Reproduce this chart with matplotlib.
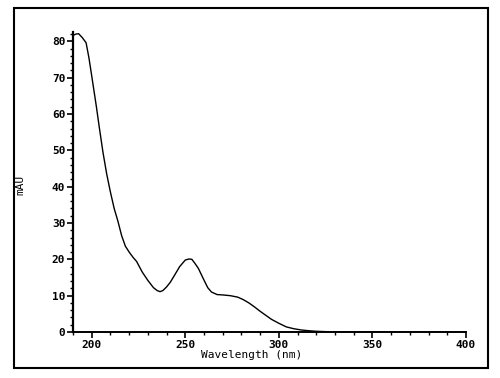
import matplotlib
matplotlib.use("Agg")
import matplotlib.pyplot as plt
from matplotlib.patches import Rectangle
from matplotlib.ticker import MultipleLocator

# spectrum (nm, mAU)
wavelength = [190, 191.5, 193, 195, 197, 198.5, 200, 202.5, 204, 206, 208, 210,
              212, 214, 216, 218, 220, 222, 224, 227, 230, 233, 235, 236.5, 238,
              240, 242, 244, 247, 250, 252, 253.5, 255, 257, 259.5, 262, 264, 267,
              270, 274, 278, 281, 284, 287, 290, 293, 296, 300, 304, 308, 312, 316,
              320, 325, 330, 340, 360, 380, 400]
absorbance = [81.6, 82.0, 82.1, 81.0, 79.6, 75.5, 70.5, 62.0, 56.5, 49.5, 43.5, 38.5,
              34.0, 30.5, 26.5, 23.6, 22.0, 20.6, 19.4, 16.5, 14.2, 12.2, 11.4, 11.1, 11.4,
              12.4, 13.7, 15.4, 18.0, 19.8, 20.1, 20.0, 19.0, 17.5, 14.8, 12.2, 11.0, 10.3,
              10.2, 10.0, 9.6, 8.9, 8.0, 6.9, 5.7, 4.6, 3.5, 2.4, 1.4, 0.9, 0.55, 0.35,
              0.2, 0.1, 0.05, 0.02, 0.0, 0.0, 0.0]

x_ticks = [200, 250, 300, 350, 400]
y_ticks = [0, 10, 20, 30, 40, 50, 60, 70, 80]

FONT = "DejaVu Sans Mono"
FONT_SIZE = 8

fig = plt.figure(figsize=(5, 3.78), dpi=100)
ax = fig.add_axes([0.146, 0.1217, 0.786, 0.793])

ax.plot(wavelength, absorbance, color="black", linewidth=1.0)

ax.set_xlim(190, 400)
ax.set_ylim(0, 82.5)
ax.set_xticks(x_ticks)
ax.set_yticks(y_ticks)
ax.xaxis.set_minor_locator(MultipleLocator(10))
ax.yaxis.set_minor_locator(MultipleLocator(2))
ax.tick_params(which="major", direction="out", length=4, width=1.2, pad=1.5,
               labelsize=FONT_SIZE)
ax.tick_params(which="minor", direction="out", length=2, width=1)
for label in ax.get_xticklabels() + ax.get_yticklabels():
    label.set_fontfamily(FONT)
    label.set_fontweight("bold")

ax.spines["top"].set_visible(False)
ax.spines["right"].set_visible(False)
ax.spines["left"].set_linewidth(1.6)
ax.spines["bottom"].set_linewidth(1.4)

# axis titles sit where the old plotter put them, not centred on the axes
fig.text(252 / 500, 1 - 355 / 378, "Wavelength (nm)", ha="center", va="center",
         family=FONT, fontsize=FONT_SIZE)
fig.text(20 / 500, 1 - 185 / 378, "mAU", ha="center", va="center", rotation=90,
         family=FONT, fontsize=FONT_SIZE)

# outer frame of the printout
fig.patches.append(Rectangle((14 / 500, 1 - 368 / 378), 474 / 500, 360 / 378,
                             transform=fig.transFigure, fill=False,
                             edgecolor="black", linewidth=1.5))

fig.savefig("out.png", dpi=100)
